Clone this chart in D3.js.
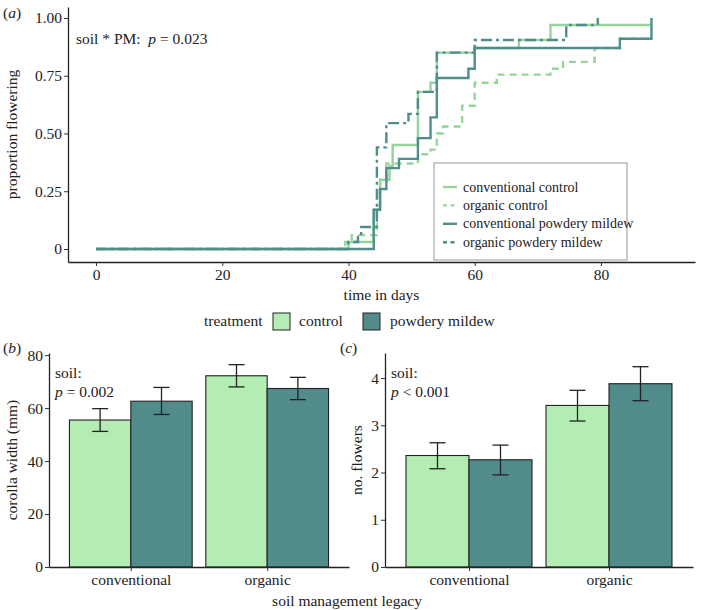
<!DOCTYPE html>
<html><head><meta charset="utf-8">
<script src="https://cdn.jsdelivr.net/npm/d3@7"></script>
<style>
body{margin:0;background:#fff;}
text{font-family:"Liberation Serif","Times New Roman",serif;fill:#222;}
</style></head>
<body>
<svg id="c" width="701" height="610"></svg>
<script>
// ---------- DATA ----------
const curveNames = ["conventional control","organic control","conventional powdery mildew","organic powdery mildew"];
const convControlDays  = [0, 40, 44, 45, 46.5, 47, 51, 53, 54, 60, 67, 72, 88];
const convControlProp  = [0, 0.03, 0.17, 0.30, 0.36, 0.45, 0.68, 0.72, 0.85, 0.87, 0.905, 0.97, 0.97];
const orgControlDays   = [0, 39.5, 40.5, 44.5, 45, 46, 51, 53, 54, 55, 58, 60, 63.5, 72, 74, 79, 83, 88];
const orgControlProp   = [0, 0.03, 0.06, 0.16, 0.30, 0.37, 0.41, 0.43, 0.50, 0.53, 0.62, 0.72, 0.755, 0.78, 0.81, 0.87, 0.91, 0.91];
const convPMDays       = [0, 44, 45, 46, 48, 51, 53, 54, 59, 60, 83, 88];
const convPMProp       = [0, 0.17, 0.26, 0.35, 0.39, 0.48, 0.57, 0.74, 0.78, 0.87, 0.91, 1.0];
const orgPMDays        = [0, 40, 41.5, 42, 44.5, 46, 49.5, 51, 54, 60, 74.5, 79.5];
const orgPMProp        = [0, 0.03, 0.06, 0.095, 0.44, 0.545, 0.585, 0.68, 0.85, 0.905, 0.97, 1.0];
const xTicksA = [0, 20, 40, 60, 80];
const yTicksA = [0, 0.25, 0.5, 0.75, 1];
const yTickLabelsA = ["0", "0.25", "0.50", "0.75", "1.00"];

const soilCats = ["conventional", "organic"];
const treatments = ["control", "powdery mildew"];
const corollaMean = [[55.5, 62.6], [72.2, 67.4]];
const corollaLo   = [[51.2, 57.6], [68.0, 63.2]];
const corollaHi   = [[59.8, 67.8], [76.4, 71.6]];
const flowersMean = [[2.36, 2.27], [3.42, 3.88]];
const flowersLo   = [[2.08, 1.95], [3.09, 3.52]];
const flowersHi   = [[2.63, 2.58], [3.74, 4.24]];
const yTicksB = [0, 20, 40, 60, 80];
const yTicksC = [0, 1, 2, 3, 4];

// ---------- STYLE ----------
const lightLine = "#97d49b", darkLine = "#4f8e8d";
const lightFill = "#b3edb3", darkFill = "#518b8a";
const FS = 15.5;
const svg = d3.select("#c");

function styleAxis(g){
  g.selectAll(".domain").attr("stroke","#222").attr("stroke-width",1.3);
  g.selectAll(".tick line").attr("stroke","#333").attr("stroke-width",1);
  g.selectAll(".tick text").attr("font-family","Liberation Serif").attr("font-size",FS).attr("fill","#222");
}

// ---------- PANEL A ----------
const xA = d3.scaleLinear().domain([-4.44, 94.9]).range([68, 695]);
const yA = d3.scaleLinear().domain([-0.0563, 1.0476]).range([262, 7]);

const gA = svg.append("g");
const axXA = gA.append("g").attr("transform","translate(0,262)")
  .call(d3.axisBottom(xA).tickValues(xTicksA).tickSize(4).tickSizeOuter(0).tickPadding(3));
styleAxis(axXA);
const axYA = gA.append("g").attr("transform","translate(68,0)")
  .call(d3.axisLeft(yA).tickValues(yTicksA).tickFormat((d,i)=>yTickLabelsA[i]).tickSize(4).tickSizeOuter(0).tickPadding(2));
styleAxis(axYA);

const curves = [
  {days: convControlDays, prop: convControlProp, color: lightLine, dash: null},
  {days: orgControlDays,  prop: orgControlProp,  color: lightLine, dash: "7,5"},
  {days: convPMDays,      prop: convPMProp,      color: darkLine,  dash: null},
  {days: orgPMDays,       prop: orgPMProp,       color: darkLine,  dash: "11,4,3,4"}
];
const stepLine = d3.line().x(d=>xA(d[0])).y(d=>yA(d[1])).curve(d3.curveStepAfter);
curves.forEach(c=>{
  const pts = c.days.map((d,i)=>[d, c.prop[i]]);
  gA.append("path").attr("d", stepLine(pts)).attr("fill","none")
    .attr("stroke", c.color).attr("stroke-width", 2.4)
    .attr("stroke-dasharray", c.dash);
});

gA.append("text").attr("x",3).attr("y",18).attr("font-size",FS)
  .html('(<tspan font-style="italic">a</tspan>)');
gA.append("text").attr("transform","translate(17,134.5) rotate(-90)").attr("text-anchor","middle")
  .attr("font-size",FS).text("proportion flowering");
gA.append("text").attr("x",381.5).attr("y",300).attr("text-anchor","middle").attr("font-size",FS).text("time in days");
gA.append("text").attr("x",76).attr("y",44).attr("font-size",FS).attr("xml:space","preserve")
  .html('soil * PM:  <tspan font-style="italic">p</tspan> = 0.023');

// legend a
const lg = gA.append("g");
lg.append("rect").attr("x",434).attr("y",163).attr("width",193).attr("height",97)
  .attr("fill","#fff").attr("stroke","#a8a8a8").attr("stroke-width",1.2);
curveNames.forEach((n,i)=>{
  const yy = 187 + i*18.4;
  lg.append("line").attr("x1",443).attr("x2",457).attr("y1",yy).attr("y2",yy)
    .attr("stroke", curves[i].color).attr("stroke-width",2.4)
    .attr("stroke-dasharray", curves[i].dash ? "4,3.5" : null);
  lg.append("text").attr("x",463).attr("y",yy+4.5).attr("font-size",14).text(n);
});

// treatment legend
const tl = svg.append("g");
tl.append("text").attr("x",204).attr("y",326).attr("font-size",FS).text("treatment");
[[273, lightFill, 299], [363, darkFill, 390]].forEach((p,i)=>{
  tl.append("rect").attr("x",p[0]).attr("y",313).attr("width",17).attr("height",17)
    .attr("fill",p[1]).attr("stroke","#222").attr("stroke-width",1);
  tl.append("text").attr("x",p[2]).attr("y",326).attr("font-size",FS).text(treatments[i]);
});

// ---------- BAR PANELS ----------
function barPanel(opts){
  const g = svg.append("g");
  const x = d3.scalePoint().domain(soilCats).range([opts.x0, opts.x1]).padding(0.6);
  const step = x.step();
  const y = d3.scaleLinear().domain([0, opts.ymax]).range([567, 353]);
  const bw = 0.45*step;
  soilCats.forEach((s,si)=>{
    treatments.forEach((t,ti)=>{
      const bx = x(s) - bw + ti*bw;
      g.append("rect").attr("x",bx).attr("y",y(opts.mean[si][ti]))
        .attr("width",bw).attr("height",y(0)-y(opts.mean[si][ti]))
        .attr("fill", ti===0?lightFill:darkFill).attr("stroke","#222").attr("stroke-width",1.1);
    });
  });
  soilCats.forEach((s,si)=>{
    treatments.forEach((t,ti)=>{
      const cx = x(s) - bw/2 + ti*bw;
      const lo = y(opts.lo[si][ti]), hi = y(opts.hi[si][ti]);
      g.append("line").attr("x1",cx).attr("x2",cx).attr("y1",lo).attr("y2",hi).attr("stroke","#222").attr("stroke-width",1.3);
      [lo,hi].forEach(v=>g.append("line").attr("x1",cx-8).attr("x2",cx+8).attr("y1",v).attr("y2",v).attr("stroke","#222").attr("stroke-width",1.3));
    });
  });
  const ax = g.append("g").attr("transform","translate(0,567)")
    .call(d3.axisBottom(x).tickSize(4).tickSizeOuter(0).tickPadding(3));
  styleAxis(ax);
  const ay = g.append("g").attr("transform",`translate(${opts.x0},0)`)
    .call(d3.axisLeft(y).tickValues(opts.ticks).tickFormat(d3.format("d")).tickSize(4).tickSizeOuter(0).tickPadding(2));
  styleAxis(ay);
  g.append("text").attr("x",opts.labX).attr("y",353).attr("font-size",FS)
    .html(`(<tspan font-style="italic">${opts.letter}</tspan>)`);
  g.append("text").attr("transform",`translate(${opts.titleX},460) rotate(-90)`).attr("text-anchor","middle")
    .attr("font-size",FS).text(opts.title);
  g.append("text").attr("x",opts.x0+6).attr("y",378).attr("font-size",FS).text("soil:");
  g.append("text").attr("x",opts.x0+6).attr("y",397).attr("font-size",FS)
    .html(`<tspan font-style="italic">p</tspan> ${opts.ptxt}`);
}
barPanel({x0:49, x1:349, ymax:80.8, mean:corollaMean, lo:corollaLo, hi:corollaHi, ticks:yTicksB,
  letter:"b", labX:3, title:"corolla width (mm)", titleX:17, ptxt:"= 0.002"});
barPanel({x0:385, x1:693, ymax:4.53, mean:flowersMean, lo:flowersLo, hi:flowersHi, ticks:yTicksC,
  letter:"c", labX:340, title:"no. flowers", titleX:362, ptxt:"&lt; 0.001"});

svg.append("text").attr("x",347).attr("y",606).attr("text-anchor","middle").attr("font-size",FS).text("soil management legacy");
</script>
</body></html>
